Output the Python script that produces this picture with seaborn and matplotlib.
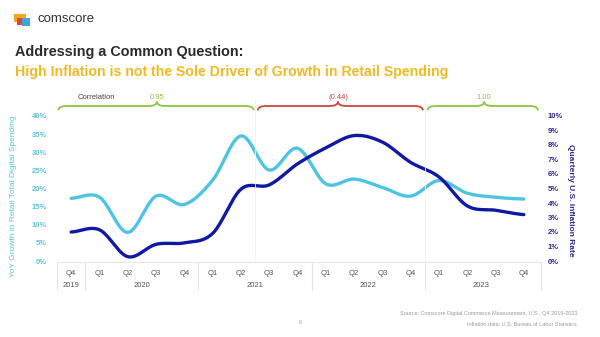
import numpy as np
import pandas as pd
import matplotlib
matplotlib.use("Agg")
import matplotlib.pyplot as plt
import seaborn as sns
from matplotlib.path import Path
from matplotlib.patches import PathPatch, Rectangle

# --- data -------------------------------------------------------------
quarters = ["Q4", "Q1", "Q2", "Q3", "Q4", "Q1", "Q2", "Q3", "Q4",
            "Q1", "Q2", "Q3", "Q4", "Q1", "Q2", "Q3", "Q4"]
years = ["2019", "2020", "2021", "2022", "2023"]
year_spans = [(0, 0), (1, 4), (5, 8), (9, 12), (13, 16)]
retail_growth = [17.3, 17.6, 7.9, 17.9, 15.6, 22.3, 34.5, 25.1, 31.1,
                 21.3, 22.6, 20.3, 17.9, 22.2, 18.7, 17.6, 17.1]
inflation = [2.0, 2.15, 0.3, 1.15, 1.25, 1.9, 4.95, 5.25, 6.7,
             7.8, 8.65, 8.2, 6.8, 5.8, 3.8, 3.5, 3.2]
corr_labels = ["0.95", "(0.44)", "1.00"]
corr_groups = [(-0.45, 6.45, 3.03), (6.6, 12.43, 9.43), (12.6, 16.5, 14.6)]

LIGHT = "#4fc3e2"
DARK = "#1019a3"
GREEN = "#8cc63f"
RED = "#d0453a"


def smooth(values, steps=20):
    """Catmull-Rom curve through the quarterly values."""
    v = np.asarray(values, dtype=float)
    p = np.concatenate([[v[0]], v, [v[-1]]])
    xs, ys = [], []
    t = np.linspace(0, 1, steps, endpoint=False)
    for i in range(len(v) - 1):
        p0, p1, p2, p3 = p[i], p[i + 1], p[i + 2], p[i + 3]
        y = 0.5 * (2 * p1 + (-p0 + p2) * t + (2 * p0 - 5 * p1 + 4 * p2 - p3) * t ** 2
                   + (-p0 + 3 * p1 - 3 * p2 + p3) * t ** 3)
        xs.extend(i + t)
        ys.extend(y)
    xs.append(len(v) - 1)
    ys.append(v[-1])
    return np.array(xs), np.array(ys)


sns.set_theme(style="white")
plt.rcParams["font.family"] = ["Liberation Sans", "DejaVu Sans"]

fig = plt.figure(figsize=(6, 3.37), dpi=100)
fig.patch.set_facecolor("white")

ax = fig.add_axes([57 / 600, 1 - 261 / 337, (538 - 57) / 600, 145 / 337])
ax2 = ax.twinx()

xr, yr = smooth(retail_growth)
xi, yi = smooth(inflation)
sns.lineplot(x=xr, y=yr, ax=ax, color=LIGHT, lw=2.4, sort=False)
sns.lineplot(x=xi, y=yi, ax=ax2, color=DARK, lw=2.4, sort=False)

ax.set_xlim(-0.5, len(quarters) - 0.5)
ax.set_ylim(0, 40)
ax2.set_ylim(0, 10)
ax.set_yticks(range(0, 41, 5))
ax.set_yticklabels([f"{v}%" for v in range(0, 41, 5)], color="#5cc3e0",
                   fontsize=5.5, fontweight="bold")
ax2.set_yticks(range(0, 11))
ax2.set_yticklabels([f"{v}%" for v in range(0, 11)], color="#2a2e91",
                    fontsize=5.5, fontweight="bold")
ax.tick_params(axis="y", length=0, pad=7)
ax2.tick_params(axis="y", length=0, pad=7)
ax.set_xticks([])
for a in (ax, ax2):
    for s in a.spines.values():
        s.set_visible(False)
    a.grid(False)
ax.set_ylabel("YoY Growth in Retail Total Digital Spending", color="#5cc3e0",
              fontsize=6, labelpad=10)
ax2.set_ylabel("Quarterly U.S. Inflation Rate", color="#2a2e91", fontsize=6,
               fontweight="bold", rotation=270, labelpad=12)
ax.yaxis.set_label_coords(-0.083, 0.45)
ax2.yaxis.set_label_coords(1.075, 0.42)

tr = ax.get_xaxis_transform()

# period separators inside the plot
for xs in (6.5, 12.5):
    ax2.plot([xs, xs], [0, 1.11], transform=tr, color="#f0f0f0", lw=0.6,
             zorder=5, clip_on=False)

# quarter / year table under the plot
ax.plot([-0.5, 16.6], [-0.007, -0.007], transform=tr, color="#e6e6e6",
        lw=0.8, clip_on=False)
for xs in (-0.5, 0.5, 4.5, 8.5, 12.5, 16.6):
    ax.plot([xs, xs], [-0.007, -0.2], transform=tr, color="#e6e6e6", lw=0.8,
            clip_on=False)
for i, q in enumerate(quarters):
    ax.text(i, -0.083, q, transform=tr, ha="center", va="center",
            fontsize=5.5, color="#555555")
for yl, (a0, a1) in zip(years, year_spans):
    ax.text((a0 + a1) / 2, -0.166, yl, transform=tr, ha="center",
            va="center", fontsize=5.5, color="#555555")

# correlation braces
def brace(x0, x1, xm, color):
    yb, d, h, r = 1.069, 0.03, 0.03, 0.3
    verts = [(x0, yb - d), (x0, yb), (x0 + r, yb),
             (xm - r, yb), (xm, yb), (xm, yb + h),
             (xm, yb), (xm + r, yb),
             (x1 - r, yb), (x1, yb), (x1, yb - d)]
    codes = [Path.MOVETO, Path.CURVE3, Path.CURVE3,
             Path.LINETO, Path.CURVE3, Path.CURVE3,
             Path.CURVE3, Path.CURVE3,
             Path.LINETO, Path.CURVE3, Path.CURVE3]
    ax.add_patch(PathPatch(Path(verts, codes), transform=tr, fill=False,
                           edgecolor=color, lw=1.3, clip_on=False))


for (x0, x1, xm), lab, col in zip(corr_groups, corr_labels, [GREEN, RED, GREEN]):
    brace(x0, x1, xm, col)
    ax.text(xm, 1.125, lab, transform=tr, ha="center", va="center",
            fontsize=5.5, color=col)
ax.text(0.9, 1.125, "Correlation", transform=tr, ha="center", va="center",
        fontsize=5.5, color="#444444")

# header: logo and titles
fig.add_artist(Rectangle((14 / 600, 1 - 22 / 337), 12 / 600, 8 / 337,
                         transform=fig.transFigure, color="#f5a623", lw=0))
fig.add_artist(Rectangle((17 / 600, 1 - 25 / 337), 10 / 600, 7 / 337,
                         transform=fig.transFigure, color="#e8412c", lw=0))
fig.add_artist(Rectangle((22 / 600, 1 - 26 / 337), 8 / 600, 8 / 337,
                         transform=fig.transFigure, color="#3ba7dc", lw=0))
fig.text(37 / 600, 1 - 19 / 337, "comscore", fontsize=9.5, color="#333333",
         va="center", ha="left")
fig.text(15 / 600, 1 - 52 / 337, "Addressing a Common Question:",
         fontsize=10.4, fontweight="bold", color="#2b2b2b", va="center")
fig.text(15 / 600, 1 - 72 / 337,
         "High Inflation is not the Sole Driver of Growth in Retail Spending",
         fontsize=10.2, fontweight="bold", color="#f4b922", va="center")

# footer
fig.text(577 / 600, 1 - 314 / 337,
         "Source: Comscore Digital Commerce Measurement, U.S., Q4 2019-2023",
         fontsize=4, color="#9a9a9a", ha="right", va="center")
fig.text(577 / 600, 1 - 324 / 337,
         "Inflation data: U.S. Bureau of Labor Statistics",
         fontsize=4, color="#9a9a9a", ha="right", va="center")
fig.text(300 / 600, 1 - 322 / 337, "9", fontsize=4, color="#9a9a9a",
         ha="center", va="center")

fig.savefig("out.png", dpi=100, facecolor="white")
